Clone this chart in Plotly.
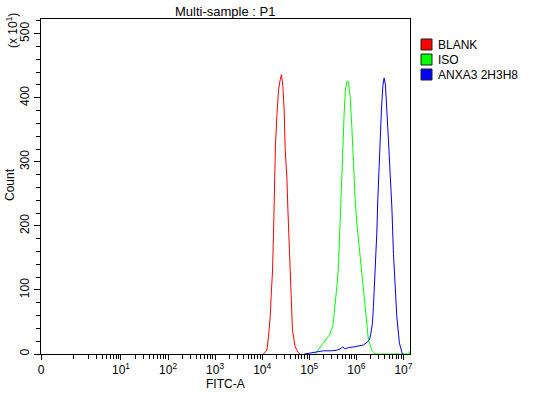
import math
import plotly.graph_objects as go

# ---------------- data ----------------
series_names = ["BLANK", "ISO", "ANXA3 2H3H8"]
series_colors = ["#FF0000", "#00FF00", "#0000FF"]

blank_fitc = [1.07e4, 1.26e4, 1.36e4, 1.48e4, 1.55e4, 1.66e4, 1.74e4, 1.82e4, 1.91e4, 2.05e4,
              2.22e4, 2.41e4, 2.57e4, 2.75e4, 2.93e4, 3.08e4, 3.34e4, 3.52e4, 3.74e4, 3.93e4,
              4.13e4, 4.40e4, 5.02e4, 5.90e4, 6.41e4]
blank_count = [0, 6, 27, 58, 90, 131, 189, 256, 324, 371,
               412, 428, 436, 418, 381, 319, 277, 225, 168, 126,
               84, 37, 11, 2, 0]

iso_fitc = [1.33e5, 1.70e5, 2.18e5, 2.69e5, 3.17e5, 3.55e5, 3.85e5, 4.17e5, 4.38e5, 4.53e5,
            4.75e5, 5.07e5, 5.51e5, 5.87e5, 6.28e5, 6.79e5, 7.38e5, 8.02e5, 8.67e5, 9.44e5,
            1.026e6, 1.109e6, 1.205e6, 1.309e6, 1.416e6, 1.538e6, 1.671e6, 1.807e6, 2.133e6, 2.506e6,
            1.321e7, 1.352e7]
iso_count = [0, 11, 22, 30, 43, 74, 105, 136, 178, 225,
             277, 329, 376, 412, 425, 425, 402, 355, 293, 241,
             204, 178, 157, 121, 95, 74, 48, 22, 6, 0,
             0, 4]

anxa3_fitc = [7.91e4, 1.23e5, 2.00e5, 3.02e5, 3.85e5, 4.53e5, 5.16e5, 5.78e5, 6.79e5, 8.67e5,
              1.109e6, 1.416e6, 1.671e6, 1.897e6, 2.032e6, 2.198e6, 2.307e6, 2.421e6, 2.547e6, 2.723e6,
              2.858e6, 3.006e6, 3.199e6, 3.412e6, 3.656e6, 3.890e6, 4.150e6, 4.446e6, 4.808e6, 5.224e6,
              5.675e6, 6.138e6, 6.668e6, 7.244e6, 8.222e6, 9.528e6]
anxa3_count = [0, 2, 5, 5, 6, 8, 11, 8, 10, 11,
               12, 14, 18, 22, 32, 48, 74, 105, 147, 189,
               241, 288, 334, 381, 418, 431, 420, 386, 334, 282,
               230, 157, 105, 58, 17, 0]

# display position of the "0" label on the log-like axis, and axis extent
x_zero_display = 0.2
x_max_display = 1.38e7
x_tick_values = [x_zero_display, 1e1, 1e2, 1e3, 1e4, 1e5, 1e6, 1e7]
x_tick_labels = ["0", "10<sup>1</sup>", "10<sup>2</sup>", "10<sup>3</sup>", "10<sup>4</sup>",
                 "10<sup>5</sup>", "10<sup>6</sup>", "10<sup>7</sup>"]
x_minor_values = [k * 10 ** n for n in range(0, 7) for k in range(1, 10) if k > 1 or n == 0]
y_tick_values = [0, 100, 200, 300, 400, 500]
y_max = 523
x_title = "FITC-A"
y_title = "Count"
y_scale_note = "(x 10<sup>1</sup>)"
chart_title = "Multi-sample : P1"

all_series = [
    (blank_fitc, blank_count),
    (iso_fitc, iso_count),
    (anxa3_fitc, anxa3_count),
]

# ---------------- figure ----------------
W, H = 547, 393
ML, MR, MT, MB = 41, 137, 19, 39
PW, PH = W - ML - MR, H - MT - MB
FONT = "Liberation Sans, Arial, sans-serif"

fig = go.Figure()
for (xs, ys), name, color in zip(all_series, series_names, series_colors):
    fig.add_trace(go.Scatter(x=xs, y=ys, mode="lines", name=name,
                             line=dict(color=color, width=1), showlegend=False,
                             hoverinfo="skip"))


def px_x(p):
    """figure pixel x -> paper x"""
    return (p - ML) / PW


def px_y(p):
    """figure pixel y -> paper y"""
    return (H - MB - p) / PH


def txt(size=12):
    return dict(family=FONT, size=size, color="black")


shapes = []
annotations = []
# legend (square swatches + labels)
for i, (name, color) in enumerate(zip(series_names, series_colors)):
    top = 39 + 15 * i
    shapes.append(dict(type="rect", xref="paper", yref="paper",
                       x0=px_x(421), x1=px_x(432), y0=px_y(top + 11), y1=px_y(top),
                       fillcolor=color, line=dict(color="#202020", width=1)))
    annotations.append(dict(xref="paper", yref="paper", x=px_x(436), y=px_y(top + 6),
                            xanchor="left", yanchor="middle", text=name, showarrow=False,
                            font=txt(12)))

annotations.append(dict(xref="paper", yref="paper", x=px_x(12), y=px_y(31),
                        xanchor="center", yanchor="middle", text=y_scale_note,
                        textangle=-90, showarrow=False, font=txt(12)))
annotations.append(dict(xref="paper", yref="paper", x=px_x(10), y=px_y(185),
                        xanchor="center", yanchor="middle", text=y_title,
                        textangle=-90, showarrow=False, font=txt(12)))
annotations.append(dict(xref="paper", yref="paper", x=px_x(226), y=px_y(384),
                        xanchor="center", yanchor="middle", text=x_title,
                        showarrow=False, font=txt(12)))
annotations.append(dict(xref="paper", yref="paper", x=px_x(225), y=px_y(12),
                        xanchor="center", yanchor="middle", text=chart_title,
                        showarrow=False, font=txt(13)))

fig.update_layout(
    width=W, height=H,
    margin=dict(l=ML, r=MR, t=MT, b=MB, autoexpand=False),
    paper_bgcolor="white", plot_bgcolor="white",
    font=txt(12),
    shapes=shapes, annotations=annotations,
    showlegend=False,
    hovermode=False,
)

fig.update_xaxes(
    type="log", range=[math.log10(x_zero_display), math.log10(x_max_display)],
    automargin=False,
    showgrid=False, zeroline=False,
    showline=True, linecolor="black", linewidth=1, mirror=True,
    tickmode="array", tickvals=x_tick_values, ticktext=x_tick_labels,
    ticks="outside", ticklen=5, tickcolor="black", tickwidth=1,
    minor=dict(tickmode="array", tickvals=x_minor_values, ticks="outside",
               ticklen=4, tickcolor="black", tickwidth=1, showgrid=False),
    tickfont=txt(12),
)
fig.update_yaxes(
    range=[0, y_max],
    automargin=False,
    showgrid=False, zeroline=False,
    showline=True, linecolor="black", linewidth=1, mirror=True,
    tickmode="array", tickvals=y_tick_values, tickangle=-90,
    ticks="outside", ticklen=6, tickcolor="black", tickwidth=1,
    minor=dict(dtick=20, ticks="outside", ticklen=4, tickcolor="black",
               tickwidth=1, showgrid=False),
    tickfont=txt(12),
)

# remove the default 8px page margin so the figure sits at the window's top-left corner
fig.write_html("out.html",
               config={"displayModeBar": False, "staticPlot": True},
               post_script="document.body.style.margin='0';document.body.style.overflow='hidden';")
